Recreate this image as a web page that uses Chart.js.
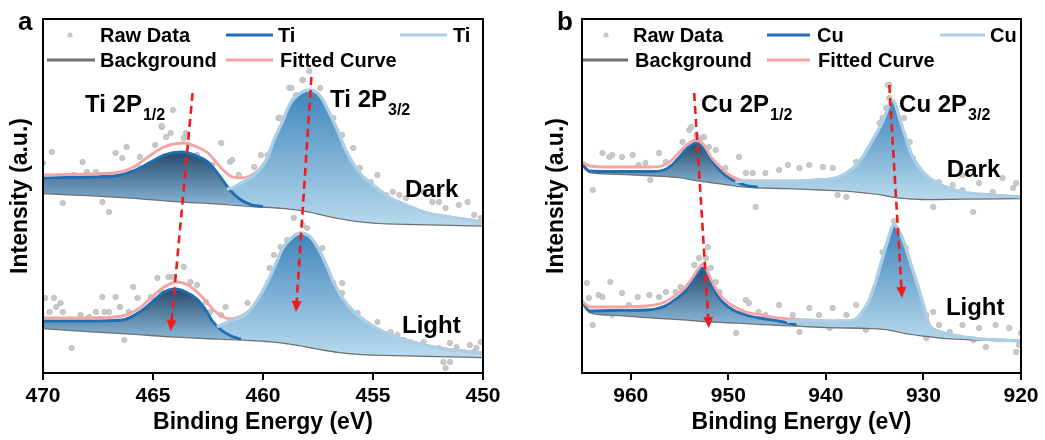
<!DOCTYPE html>
<html>
<head>
<meta charset="utf-8">
<script src="https://cdn.jsdelivr.net/npm/chart.js@4.4.1/dist/chart.umd.min.js"></script>
<style>
  html, body { margin: 0; padding: 0; background: #fff; }
  #wrapA { position: absolute; left: 0; top: 0; width: 530px; height: 440px; }
  #wrapB { position: absolute; left: 540px; top: 0; width: 505px; height: 440px; }
</style>
</head>
<body>
<div id="wrapA"><canvas id="chartA" width="530" height="440"></canvas></div>
<div id="wrapB"><canvas id="chartB" width="505" height="440"></canvas></div>
<script>
const FONT = '"Liberation Sans", Arial, sans-serif';

// ---- panel a : Ti 2p, [binding energy (eV), intensity (a.u.)] ----
const tiTicks = [470, 465, 460, 455, 450];

const tiDarkRaw = [[470.0,210],[469.6,221],[469.1,170],[468.6,198],[468.2,211],[468.0,201],[467.6,201],[467.3,171],
  [467.0,161],[466.7,220],[466.4,215],[466.2,226],[466.1,201],[465.8,195],[465.6,205],[465.6,216],[464.9,228],
  [464.6,246],[464.4,236],[464.2,240],[463.6,235],[463.5,240],[463.0,211],[463.0,218],[462.3,208],[461.9,230],
  [461.5,211],[461.4,213],[461.1,198],[460.4,206],[460.1,218],[459.8,218],[459.3,255],[458.8,285],[458.5,278],
  [458.2,293],[457.6,271],[456.8,255],[456.4,238],[455.9,225],[455.6,205],[455.1,191],[454.8,198],[454.4,178],
  [454.1,181],[453.8,178],[453.5,175],[452.7,181],[452.3,171],[452.0,171],[451.7,165],[451.1,168],[450.7,171],
  [450.4,158],[450.1,155],[457.9,302],[458.2,293],[458.7,285],[457.4,285],[458.6,273],[457.0,255],[459.2,255],
  [464.6,247],[464.1,263]];
const tiDarkBg = [[470,180],[468,178],[466,175.5],[464,172],[462,169.5],[460.5,167],[459,165],[458,162],[457,157],
  [456,153],[455,150.5],[453,149],[450,147.5]];
const tiDark12 = [[470,195],[468,196],[466.5,198],[465.8,203],[465.1,211],[464.5,218],[463.7,221],[463.0,217],
  [462.5,211],[462.0,198],[461.5,183],[461.0,173],[460.5,168],[460.0,166.5]];
const tiDark32 = [[461.65,184],[461.4,185],[461.0,190],[460.6,195],[460.2,202],[459.8,215],[459.5,233],[459.1,252],
  [458.8,268],[458.3,280],[457.9,283],[457.4,277],[457.0,261],[456.6,242],[456.2,221],[455.6,200],[455.0,188],
  [454.2,175],[453.5,168],[452.7,161],[451.5,156],[450,151]];
const tiDarkFit = [[470,198],[468,199],[466.5,201],[465.8,207],[465.1,218],[464.5,226],[463.6,230],[463.0,226],
  [462.5,220],[461.9,205],[461.4,196],[461.0,195],[460.6,197],[460.2,203],[459.8,215],[459.5,233],[459.1,252],
  [458.8,268],[458.3,280],[457.9,283],[457.4,277],[457.0,261],[456.6,242],[456.2,221],[455.6,200],[455.0,188],
  [454.2,175],[453.5,168],[452.7,161],[451.5,156],[450,151]];

const tiLightRaw = [[469.9,75],[469.5,75],[469.7,61],[469.4,66],[469.2,70],[469.1,61],[468.7,25],[468.3,58],
  [467.9,56],[467.6,61],[467.3,76],[467.2,61],[467.0,61],[466.7,76],[466.5,66],[466.3,33],[466.1,61],[465.9,86],
  [465.7,75],[465.1,76],[464.8,95],[464.6,81],[464.3,96],[464.1,96],[463.6,106],[463.3,91],[463.0,88],[462.6,71],
  [462.4,61],[461.9,58],[461.7,66],[460.7,70],[459.7,105],[459.5,118],[459.2,126],[458.9,133],[458.6,155],
  [458.2,148],[458.0,145],[457.3,125],[456.8,90],[456.4,90],[456.4,80],[455.7,60],[455.1,45],[455.0,38],
  [454.8,51],[454.2,41],[453.9,38],[453.6,33],[453.3,31],[452.7,31],[452.0,25],[451.8,11],[451.7,5],[451.5,11],
  [451.5,30],[451.2,26],[450.6,28],[450.4,21],[450.3,25],[450.1,31]];
const tiLightBg = [[470,45],[468,42],[466,39.5],[464,36.5],[462,34.5],[460.5,33],[459.5,31.5],[458.5,28.5],
  [457.5,24.5],[456.5,21],[455.5,19],[454,18],[452,17],[450,16]];
const tiLight12 = [[470,52],[468,52],[466.4,53],[465.6,61],[465.0,72],[464.5,81],[464.0,84],[463.5,81],[463.0,74],
  [462.6,63],[462.3,52],[461.9,43],[461.4,36.5],[461.0,34]];
const tiLight32 = [[462.1,46],[461.8,49],[461.5,52],[461.1,55],[460.7,60],[460.2,75],[459.8,91],[459.4,110],
  [459.1,125],[458.7,135],[458.3,140],[457.9,137],[457.5,125],[457.1,107],[456.8,91],[456.3,72],[455.7,58],
  [455.0,47],[454.2,38],[453.0,30],[452.0,25],[450.0,20]];
const tiLightFit = [[470,55],[468,55],[466.4,57],[465.6,65],[465.0,77],[464.5,86],[463.9,91],[463.4,88],[463.0,81],
  [462.6,72],[462.2,62],[461.8,56],[461.5,54],[461.1,56],[460.7,61],[460.2,75],[459.8,91],[459.4,110],[459.1,125],
  [458.7,135],[458.3,140],[457.9,137],[457.5,125],[457.1,107],[456.8,91],[456.3,72],[455.7,58],[455.0,47],
  [454.2,38],[453.0,30],[452.0,25],[450.0,20]];
const tiArrows = [[[463.2,280],[464.2,42]], [[457.8,296],[458.5,61]]];

// ---- panel b : Cu 2p ----
const cuTicks = [960, 950, 940, 930, 920];

const cuDarkRaw = [[963.9,183],[962.9,220],[962.2,216],[961.9,218],[960.9,216],[959.8,218],[959.2,208],[958.5,210],
  [958.0,193],[957.1,220],[956.4,211],[955.9,206],[954.7,231],[954.0,243],[953.3,238],[952.8,235],[952.5,236],
  [952.0,226],[951.3,223],[950.3,205],[948.9,216],[948.2,200],[947.5,200],[947.2,166],[946.2,200],[944.8,203],
  [943.9,208],[942.7,205],[941.7,208],[940.3,206],[939.3,205],[938.8,178],[937.9,176],[937.9,188],[936.9,211],
  [936.2,198],[935.5,221],[934.5,250],[934.5,181],[933.8,265],[933.5,288],[932.5,238],[931.4,231],[931.1,215],
  [929.4,188],[929.0,166],[928.4,191],[927.7,185],[927.0,188],[926.0,183],[926.0,198],[924.9,161],[924.3,190],
  [922.9,181],[921.9,195],[920.8,185],[920.5,190],[933.65,288],[933.5,275],[932.0,255],[934.2,255],[953.8,246]];
const cuDarkBg = [[965,208],[964.2,201],[962,199.5],[958.4,198],[955,196],[953.3,193],[951,190],[948.2,186.5],
  [944,185],[941.4,184],[938,182.5],[936.3,181],[934.5,179],[932.8,176],[931,174.5],[929.4,174],[926,174.5],[920,175]];
const cuDark12 = [[965,209],[964.2,202],[962,201.5],[958,201.5],[956.8,202.5],[955.9,207],[955.1,215],[954.3,224],
  [953.3,230],[952.5,224],[951.7,212],[950.8,202],[949.9,195],[949.0,190.5],[948.2,187.5],[947,186]];
const cuDark32 = [[949.3,191],[948.2,192],[946,192],[943,192],[941,193],[939,195],[937.9,200],
  [937,207],[936.3,215],[935.5,228],[934.8,240],[934.2,251],[933.6,266],[933.3,273],[932.9,269],
  [932.4,253],[931.9,238],[931.2,218],[930.3,204],[929.4,195],[928,187],[926,181],[923,178],[920,176]];
const cuDarkFit = [[965,211],[964.2,207],[962,206],[958,206],[956.8,207],[955.9,212],[955.1,220],[954.3,228],
  [953.3,233],[952.5,228],[951.7,215],[950.8,206],[949.9,198],[948.2,192],[946,192],[943,192],[941,193],[939,195],
  [937.9,200],[937,207],[936.3,215],[935.5,228],[934.8,240],[934.2,251],[933.6,266],[933.3,273],[932.9,269],
  [932.4,253],[931.9,238],[931.2,218],[930.3,204],[929.4,195],[928,187],[926,181],[923,178],[920,176]];

const cuLightRaw = [[964.5,90],[964.3,75],[963.9,48],[963.3,78],[962.9,76],[962.1,91],[961.9,58],[960.9,80],
  [960.2,68],[959.3,76],[958.1,78],[957.1,76],[956.4,81],[955.4,81],[954.9,86],[954.0,83],[953.5,108],[953.0,115],
  [952.3,115],[952.1,126],[951.8,105],[951.3,91],[950.9,81],[950.3,68],[949.2,40],[948.6,61],[948.2,73],[947.9,70],
  [946.9,61],[946.2,58],[944.8,68],[943.4,58],[942.7,41],[941.7,65],[940.7,58],[939.6,45],[939.3,65],[938.6,51],
  [937.9,58],[936.9,68],[935.9,43],[935.2,71],[934.5,88],[934.2,121],[933.1,128],[931.8,125],[931.1,98],[930.8,88],
  [929.7,58],[929.0,61],[929.7,35],[928.4,48],[927.3,41],[926.0,48],[924.9,33],[924.3,45],[923.6,26],[922.6,48],
  [921.2,45],[920.5,21],[920.2,28],[920.0,40],[933.0,152],[932.6,140]];
const cuLightBg = [[965,71],[964.2,61],[962,58.5],[958.4,56],[955,54],[952.3,52],[949,50.5],[946.5,49],[943,47.5],
  [939.7,46],[935.3,45],[933.5,43.5],[931.8,40],[929.5,37],[927.7,35],[924,33.5],[920,32]];
const cuLight12 = [[965,71.5],[964.2,62],[962,62.5],[958.4,63],[956.5,67],[955.1,76],[954.3,83],[953.7,91],[953.1,100],
  [952.6,105],[952.1,97],[951.7,88],[951.2,79],[950.6,71],[949.5,63],[948.2,58],[946.5,54.5],[944.8,52],[943,48]];
const cuLight32 = [[944,51.5],[942,53],[939,52],[937.9,52],[936.8,55],[936.3,61],[935.6,72],[934.9,91],
  [934.4,108],[933.8,128],[933.0,148],[932.3,138],[931.8,125],[931.2,106],[930.7,91],[930.0,68],
  [929.4,48],[928.5,42],[927,38],[924,34],[920,32]];
const cuLightFit = [[965,72],[964.2,66],[962,66],[958.4,67],[956.5,71],[955.1,80],[954.3,87],[953.7,95],[953.1,104],
  [952.6,109],[952.1,101],[951.7,92],[951.2,83],[950.6,75],[949.5,67],[948.2,61],[946.5,58],[944.8,55],[942,53],
  [939,52],[937.9,52],[936.8,55],[936.3,61],[935.6,72],[934.9,91],[934.4,108],[933.8,128],[933.0,148],[932.3,138],
  [931.8,125],[931.2,106],[930.7,91],[930.0,68],[929.4,48],[928.5,42],[927,38],[924,34],[920,32]];
const cuArrows = [[[953.5,280],[952.0,45]], [[933.5,288],[932.2,75]]];

// colours
const C_DARK = '#1f6db2', C_LIGHT = '#a9d0e8', C_FIT = '#f6a3a3', C_BG = '#707070';

const xy = arr => arr.map(([x, y]) => ({ x: x, y: y }));

// vertical gradient spanning the component's own range
function vgrad(arr, cTop, cBottom) {
  const vals = arr.map(p => p[1]);
  const top = Math.max(...vals), bottom = Math.min(...vals);
  return function (context) {
    const chart = context.chart;
    if (!chart.chartArea) return cBottom;
    const y = chart.scales.y;
    const g = chart.ctx.createLinearGradient(0, y.getPixelForValue(top), 0, y.getPixelForValue(bottom));
    g.addColorStop(0, cTop);
    g.addColorStop(1, cBottom);
    return g;
  };
}

function spectrum(raw, bg, p12, p32, fit, base) {
  const bgIdx = base + 1;
  const line = { pointRadius: 0, cubicInterpolationMode: 'monotone', fill: false };
  return [
    { data: xy(raw), showLine: false, pointRadius: 2.7, pointBackgroundColor: '#c9c9c9',
      pointBorderColor: '#b0b0b0', pointBorderWidth: 0.6, order: 6 },
    Object.assign({}, line, { data: xy(bg), borderColor: C_BG, borderWidth: 2.6, order: 5 }),
    Object.assign({}, line, { data: xy(p32), borderWidth: 0, fill: { target: bgIdx },
      backgroundColor: vgrad(p32, '#3f86bb', '#b5d8ec'), order: 4 }),
    Object.assign({}, line, { data: xy(p12), borderColor: C_DARK, borderWidth: 2.8, fill: { target: bgIdx },
      backgroundColor: vgrad(p12, '#264a6c', '#8ab8da'), order: 3 }),
    Object.assign({}, line, { data: xy(fit), borderColor: C_FIT, borderWidth: 2.8, order: 2 }),
    Object.assign({}, line, { data: xy(p32), borderColor: C_LIGHT, borderWidth: 3.2, order: 1 }),
  ];
}

const decor = {
  id: 'decor',
  afterDatasetsDraw(chart, args, o) {
    const { ctx, chartArea: a } = chart;
    const x = chart.scales.x, y = chart.scales.y;
    ctx.save();

    // red dashed arrows
    ctx.strokeStyle = '#f21b1b';
    ctx.fillStyle = '#f21b1b';
    ctx.lineWidth = 2.6;
    o.arrows.forEach(([p0, p1]) => {
      const x0 = x.getPixelForValue(p0[0]), y0 = y.getPixelForValue(p0[1]);
      const x1 = x.getPixelForValue(p1[0]), y1 = y.getPixelForValue(p1[1]);
      const ang = Math.atan2(y1 - y0, x1 - x0);
      const hl = 11, hw = 5;
      const xe = x1 - hl * Math.cos(ang), ye = y1 - hl * Math.sin(ang);
      ctx.setLineDash([8, 5]);
      ctx.beginPath(); ctx.moveTo(x0, y0); ctx.lineTo(xe, ye); ctx.stroke();
      ctx.setLineDash([]);
      ctx.beginPath();
      ctx.moveTo(x1, y1);
      ctx.lineTo(xe + hw * Math.cos(ang + Math.PI / 2), ye + hw * Math.sin(ang + Math.PI / 2));
      ctx.lineTo(xe - hw * Math.cos(ang + Math.PI / 2), ye - hw * Math.sin(ang + Math.PI / 2));
      ctx.closePath(); ctx.fill();
    });

    // peak and state labels
    ctx.fillStyle = '#000';
    ctx.textBaseline = 'alphabetic';
    ctx.textAlign = 'left';
    o.labels.forEach(l => {
      const px = x.getPixelForValue(l.x), py = y.getPixelForValue(l.y);
      ctx.font = 'bold 24px ' + FONT;
      ctx.fillText(l.main, px, py);
      if (l.sub) {
        const w = ctx.measureText(l.main).width;
        ctx.font = 'bold 16px ' + FONT;
        ctx.fillText(l.sub, px + w + 1, py + 8);
      }
    });

    // legend
    ctx.font = 'bold 20px ' + FONT;
    ctx.textBaseline = 'middle';
    const rows = [a.top + 16, a.top + 41];
    o.legend.forEach(it => {
      const ry = rows[it.row];
      if (it.dot !== undefined) {
        ctx.fillStyle = '#c9c9c9';
        ctx.beginPath(); ctx.arc(a.left + it.dot, ry, 2.6, 0, Math.PI * 2); ctx.fill();
      } else {
        ctx.strokeStyle = it.color; ctx.lineWidth = 3;
        ctx.beginPath(); ctx.moveTo(a.left + it.x0, ry); ctx.lineTo(a.left + it.x1, ry); ctx.stroke();
      }
      ctx.fillStyle = '#000';
      ctx.fillText(it.text, a.left + it.tx, ry + 1);
    });

    // frame
    ctx.strokeStyle = '#000';
    ctx.lineWidth = 2;
    ctx.strokeRect(a.left, a.top, a.width, a.height);

    // panel letter
    ctx.textBaseline = 'alphabetic';
    ctx.font = 'bold 26px ' + FONT;
    ctx.fillText(o.letter, o.letterX, 30);
    ctx.restore();
  }
};

function makePanel(id, cfg) {
  const datasets = spectrum(...cfg.dark, 0).concat(spectrum(...cfg.light, 6));
  return new Chart(document.getElementById(id), {
    type: 'line',
    data: { datasets: datasets },
    options: {
      responsive: false,
      animation: false,
      events: [],
      layout: { padding: { top: 19, right: cfg.padRight, left: 0, bottom: 0 } },
      plugins: { legend: { display: false }, tooltip: { enabled: false }, decor: cfg.decor },
      scales: {
        x: {
          type: 'linear', min: cfg.min, max: cfg.max, reverse: true,
          afterBuildTicks: s => { s.ticks = cfg.ticks.map(v => ({ value: v })); },
          afterFit: s => { s.height = 67; },
          ticks: { color: '#000', font: { family: FONT, size: 21, weight: 'bold' }, padding: 4,
                   maxRotation: 0, autoSkip: false },
          grid: { display: true, drawOnChartArea: false, drawTicks: true, tickLength: 7,
                  color: '#000', lineWidth: 2 },
          border: { display: false },
          title: { display: true, text: 'Binding Energy (eV)', color: '#000',
                   font: { family: FONT, size: 23, weight: 'bold' }, padding: { bottom: 4, top: 0 } }
        },
        y: {
          min: 0, max: 354,
          afterFit: s => { s.width = cfg.yWidth; },
          ticks: { display: false },
          grid: { display: false },
          border: { display: false },
          title: { display: true, text: 'Intensity (a.u.)', color: '#000',
                   font: { family: FONT, size: 23, weight: 'bold' }, padding: { top: cfg.yTitlePad, bottom: 0 } }
        }
      }
    },
    plugins: [decor]
  });
}

makePanel('chartA', {
  dark: [tiDarkRaw, tiDarkBg, tiDark12, tiDark32, tiDarkFit],
  light: [tiLightRaw, tiLightBg, tiLight12, tiLight32, tiLightFit],
  min: 450, max: 470, ticks: tiTicks, padRight: 47, yWidth: 43, yTitlePad: 7,
  decor: {
    arrows: tiArrows, letter: 'a', letterX: 18,
    labels: [
      { x: 468.09, y: 261, main: 'Ti 2P', sub: '1/2' },
      { x: 456.95, y: 266, main: 'Ti 2P', sub: '3/2' },
      { x: 453.55, y: 176, main: 'Dark' },
      { x: 453.68, y: 40, main: 'Light' }
    ],
    legend: [
      { row: 0, dot: 27, text: 'Raw Data', tx: 57 },
      { row: 0, x0: 183, x1: 230, color: C_DARK, text: 'Ti', tx: 235 },
      { row: 0, x0: 357, x1: 404, color: C_LIGHT, text: 'Ti', tx: 410 },
      { row: 1, x0: 4, x1: 52, color: C_BG, text: 'Background', tx: 57 },
      { row: 1, x0: 183, x1: 230, color: C_FIT, text: 'Fitted Curve', tx: 237 }
    ]
  }
});

makePanel('chartB', {
  dark: [cuDarkRaw, cuDarkBg, cuDark12, cuDark32, cuDarkFit],
  light: [cuLightRaw, cuLightBg, cuLight12, cuLight32, cuLightFit],
  min: 920, max: 965, ticks: cuTicks, padRight: 24, yWidth: 42, yTitlePad: 3,
  decor: {
    arrows: cuArrows, letter: 'b', letterX: 17,
    labels: [
      { x: 952.8, y: 261, main: 'Cu 2P', sub: '1/2' },
      { x: 932.5, y: 261, main: 'Cu 2P', sub: '3/2' },
      { x: 927.6, y: 196, main: 'Dark' },
      { x: 927.7, y: 58, main: 'Light' }
    ],
    legend: [
      { row: 0, dot: 24, text: 'Raw Data', tx: 51 },
      { row: 0, x0: 185, x1: 228, color: C_DARK, text: 'Cu', tx: 235 },
      { row: 0, x0: 358, x1: 403, color: C_LIGHT, text: 'Cu', tx: 408 },
      { row: 1, x0: 1, x1: 46, color: C_BG, text: 'Background', tx: 53 },
      { row: 1, x0: 185, x1: 228, color: C_FIT, text: 'Fitted Curve', tx: 236 }
    ]
  }
});
</script>
</body>
</html>
